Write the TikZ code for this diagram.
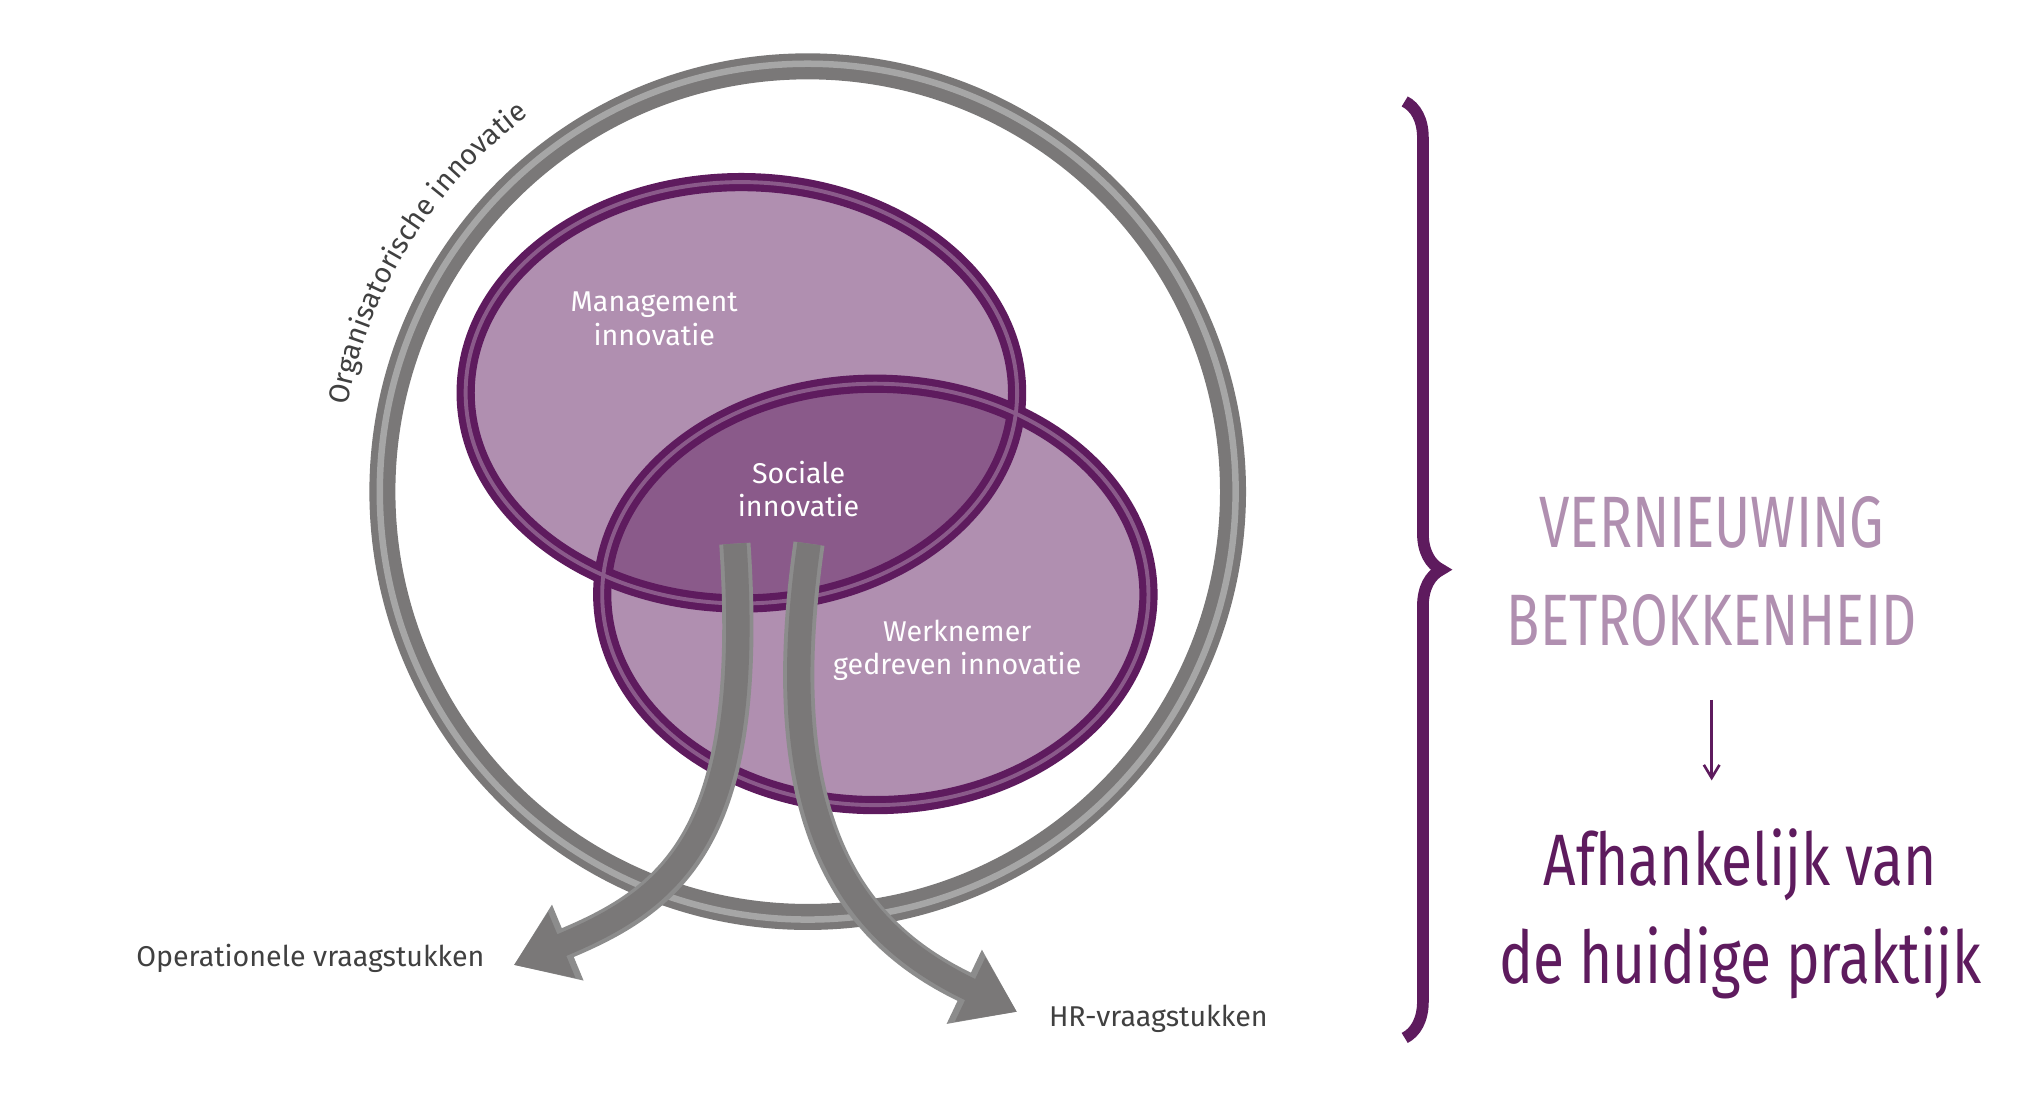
\documentclass[tikz,border=0pt]{standalone}
\usepackage{fontspec}
\setmainfont{Fira Sans}
\usetikzlibrary{arrows.meta,decorations.pathreplacing,decorations.text}
\definecolor{dp}{HTML}{5E1B5E}
\definecolor{lp}{HTML}{B08FB0}
\definecolor{mp}{HTML}{8A5A8A}
\definecolor{gr}{HTML}{7A7878}
\begin{document}
\begin{tikzpicture}[x=1pt,y=-1pt,
  lbl/.style={font=\fontsize{22}{26}\selectfont,text=white,align=center},
  glbl/.style={font=\fontsize{22}{26}\selectfont,text=black!75},
  big/.style={font=\fontsize{56}{60}\selectfont}]
\useasboundingbox (0,0) rectangle (1560,848);
% gray ring
\draw[gr,line width=20] (621,378) circle[radius=327];
\draw[black!35,line width=5] (621,378) circle[radius=329];
% ellipses
\fill[lp] (570,302) ellipse[x radius=212,y radius=162];
\fill[lp] (673,457) ellipse[x radius=210,y radius=162];
\begin{scope}
\clip (570,302) ellipse[x radius=212,y radius=162];
\fill[mp] (673,457) ellipse[x radius=210,y radius=162];
\end{scope}
\draw[dp,line width=14] (570,302) ellipse[x radius=212,y radius=162];
\draw[dp,line width=14] (673,457) ellipse[x radius=210,y radius=162];
\draw[mp,line width=3] (570,302) ellipse[x radius=212,y radius=162];
\draw[mp,line width=3] (673,457) ellipse[x radius=210,y radius=162];
% arrows
\coordinate (a1) at (565,418);
\coordinate (b1) at (395,742);
\coordinate (a2) at (622,418);
\coordinate (b2) at (782,778);
\draw[black!45,line width=24,-{Triangle[width=60,length=45]}] (a1) .. controls (580,640) and (520,690) .. (b1);
\draw[gr,line width=18,-{Triangle[width=52,length=40]}] (a1) .. controls (580,640) and (520,690) .. (b1);
\draw[black!45,line width=24,-{Triangle[width=60,length=45]}] (a2) .. controls (590,640) and (660,720) .. (b2);
\draw[gr,line width=18,-{Triangle[width=52,length=40]}] (a2) .. controls (590,640) and (660,720) .. (b2);
% texts
\node[lbl] (m) at (503,245) {Management\\innovatie};
\node[lbl] (s) at (614,376) {Sociale\\innovatie};
\node[lbl] (w) at (736,500) {Werknemer\\gedreven innovatie};
\node[glbl,anchor=east] (op) at (376,737) {Operationele vraagstukken};
\node[glbl,anchor=west] (hr) at (803,783) {HR-vraagstukken};
\path[decorate,decoration={text along path,text align=center,
  text={|\fontsize{22}{26}\selectfont\color{black!75}|Organisatorische innovatie}}]
  (621,378) ++(184:360) arc[start angle=184,end angle=240,radius=360];
% brace
\draw[dp,line width=9,decorate,decoration={brace,amplitude=28,aspect=0.5}]
  (1080,78) -- (1080,798);
% right texts
\node[big,text=lp] (v) at (1316,402) {\scalebox{0.75}[1]{VERNIEUWING}};
\node[big,text=lp] (bt) at (1316,477) {\scalebox{0.75}[1]{BETROKKENHEID}};
\coordinate (t1) at (1316,538);
\coordinate (t2) at (1316,600);
\draw[dp,line width=2,-{Straight Barb[length=10,width=12]}] (t1) -- (t2);
\node[big,text=dp] (af) at (1338,665) {\scalebox{0.78}[1]{Afhankelijk van}};
\node[big,text=dp] (dh) at (1338,740) {\scalebox{0.78}[1]{de huidige praktijk}};
\end{tikzpicture}
\end{document}
